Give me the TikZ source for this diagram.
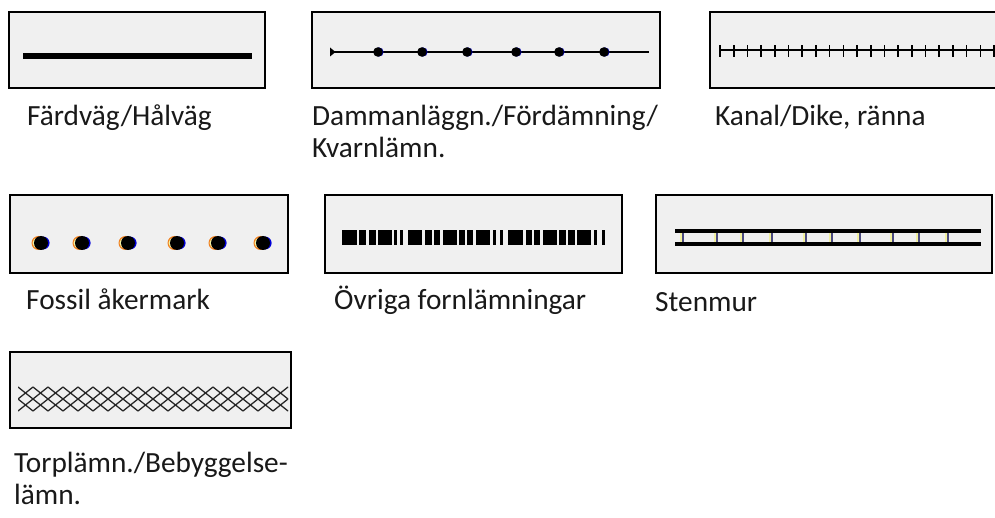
\documentclass[tikz,border=0pt]{standalone}
\usepackage{fontspec}
\setmainfont{Carlito}
\definecolor{boxfill}{HTML}{F0F0F0}
\definecolor{tickblue}{HTML}{4A4A80}
\definecolor{fringey}{HTML}{F2F0A0}
\definecolor{fringeo}{HTML}{F08020}
\begin{document}
\begin{tikzpicture}[x=1pt,y=-1pt,
  legbox/.style={draw=black,line width=1.6pt,fill=boxfill},
  lab/.style={anchor=base west,inner sep=0pt,font=\fontsize{29.3}{32}\selectfont,text=black!90},
  thinline/.style={line width=1.8pt,black}]
\clip (0,0) rectangle (995,518);
\fill[white] (0,0) rectangle (995,518);

% Box 1
\draw[legbox] (9,12) rectangle (265,88);
\coordinate (a1) at (23,56); \coordinate (a2) at (252,56);
\draw[line width=6.5pt,black] (a1) -- (a2);
\node[lab] (l1) at (27,126) {Färdväg/Hålväg};

% Box 2
\draw[legbox] (312,12) rectangle (660,88);
\coordinate (b1) at (330,52); \coordinate (b2) at (649,52);
\draw[thinline] (b1) -- (b2);
\fill[black] (330,47.5) -- (335.5,52) -- (330,56.5) -- cycle;
\foreach \x in {378,422,467,516,559,604}{
  \fill[blue!70!black] (\x+1,52) circle (4.6);
  \fill[black] (\x,52) circle (4.8);
}
\node[lab] (l2a) at (312,126) {Dammanläggn./Fördämning/};
\node[lab] (l2b) at (312,158) {Kvarnlämn.};

% Box 3
\draw[legbox] (710,12) rectangle (1005,88);
\coordinate (c1) at (720,50); \coordinate (c2) at (1000,50);
\draw[thinline] (c1) -- (c2);
\foreach \i in {0,...,20}{
  \draw[line width=1.6pt,black] ({720+13.7*\i},45.5) -- ({720+13.7*\i},57);
}
\node[lab] (l3) at (715,126) {Kanal/Dike, ränna};

% Box 4
\draw[legbox] (10,195) rectangle (288,273);
\foreach \x in {41,82,128,177,218,263}{
  \fill[fringeo] (\x-2.5,243) circle (7);
  \fill[fringey] (\x-3,243) circle (5.5);
  \fill[blue!85!black] (\x+2.2,243) circle (6.4);
  \fill[black] (\x,243) circle (7);
}
\node[lab] (l4) at (26,310) {Fossil åkermark};

% Box 5
\draw[legbox] (325,195) rectangle (622,273);
\foreach \a/\b in {342/357,359/366,369/376,378/392,394/397,400/403,
                   408/422,425/432,434/440,443/457,459/465,467/473,476/490,493/496,500/503,
                   508/523,526/532,534/540,543/557,559/566,568/575,577/591,594/597,602/605}{
  \fill[black] (\a,230) rectangle (\b,245);
}
\node[lab] (l5) at (334,310) {Övriga fornlämningar};

% Box 6
\draw[legbox] (656,195) rectangle (992,273);
\foreach \x in {683,717,743,772,806,832,860,893,919,948}{
  \fill[fringey] (\x-3,231) rectangle (\x-1,244);
  \fill[tickblue] (\x-1,231) rectangle (\x+1.2,244);
}
\coordinate (f1) at (675,231); \coordinate (f2) at (981,231);
\coordinate (f3) at (675,244); \coordinate (f4) at (981,244);
\draw[line width=3.5pt,black] (f1) -- (f2);
\draw[line width=3.5pt,black] (f3) -- (f4);
\node[lab] (l6) at (655,312) {Stenmur};

% Box 7
\draw[legbox] (10,352) rectangle (291,428);
\begin{scope}
\clip (18,380) rectangle (288,418);
\foreach \i in {-1,...,19}{
  \draw[line width=1.3pt,black!85] ({18+15*\i},387) -- ({18+15*\i+30},411);
  \draw[line width=1.3pt,black!85] ({18+15*\i},411) -- ({18+15*\i+30},387);
}
\end{scope}
\node[lab] (l7a) at (14,472) {Torplämn./Bebyggelse-};
\node[lab] (l7b) at (14,504) {lämn.};
\end{tikzpicture}
\end{document}
